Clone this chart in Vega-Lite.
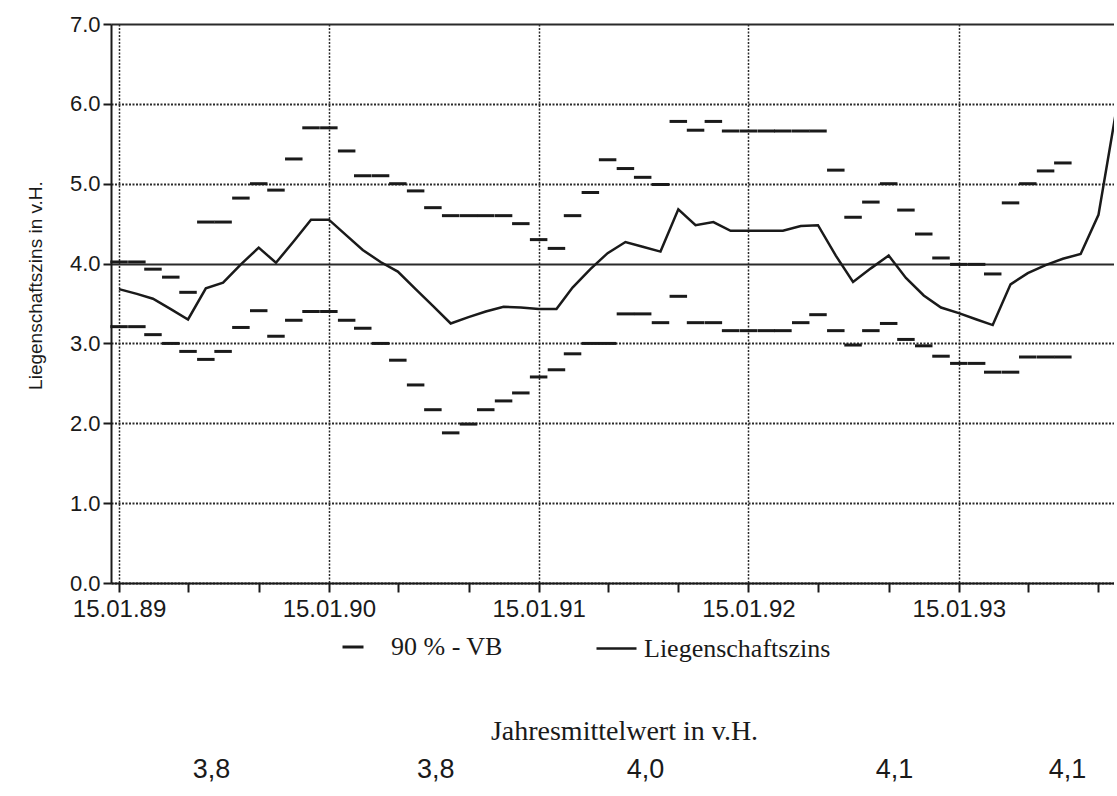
{
  "$schema": "https://vega.github.io/schema/vega-lite/v6.json",
  "background": "white",
  "padding": {"left": 26, "top": 13, "right": 0, "bottom": 0},
  "spacing": 56,
  "config": {
    "font": "Liberation Sans",
    "view": {"stroke": null},
    "locale": {"number": {"decimal": ",", "thousands": ".", "grouping": [3], "currency": ["", " DM"]}}
  },
  "datasets": {
    "monate": [
      {"datum": "1989-01-15", "zins": 3.68, "ob": 4.02, "un": 3.21},
      {"datum": "1989-02-15", "zins": 3.62, "ob": 4.02, "un": 3.21},
      {"datum": "1989-03-15", "zins": 3.56, "ob": 3.93, "un": 3.11},
      {"datum": "1989-04-15", "zins": 3.43, "ob": 3.83, "un": 3.00},
      {"datum": "1989-05-15", "zins": 3.30, "ob": 3.64, "un": 2.90},
      {"datum": "1989-06-15", "zins": 3.69, "ob": 4.52, "un": 2.80},
      {"datum": "1989-07-15", "zins": 3.76, "ob": 4.52, "un": 2.90},
      {"datum": "1989-08-15", "zins": 3.99, "ob": 4.82, "un": 3.20},
      {"datum": "1989-09-15", "zins": 4.20, "ob": 5.00, "un": 3.41},
      {"datum": "1989-10-15", "zins": 4.01, "ob": 4.92, "un": 3.09},
      {"datum": "1989-11-15", "zins": 4.28, "ob": 5.31, "un": 3.29},
      {"datum": "1989-12-15", "zins": 4.55, "ob": 5.70, "un": 3.40},
      {"datum": "1990-01-15", "zins": 4.55, "ob": 5.70, "un": 3.40},
      {"datum": "1990-02-15", "zins": 4.35, "ob": 5.41, "un": 3.29},
      {"datum": "1990-03-15", "zins": 4.17, "ob": 5.10, "un": 3.19},
      {"datum": "1990-04-15", "zins": 4.02, "ob": 5.10, "un": 3.00},
      {"datum": "1990-05-15", "zins": 3.90, "ob": 5.00, "un": 2.79},
      {"datum": "1990-06-15", "zins": 3.68, "ob": 4.91, "un": 2.48},
      {"datum": "1990-07-15", "zins": 3.47, "ob": 4.70, "un": 2.17},
      {"datum": "1990-08-15", "zins": 3.25, "ob": 4.60, "un": 1.88},
      {"datum": "1990-09-15", "zins": 3.33, "ob": 4.60, "un": 1.99},
      {"datum": "1990-10-15", "zins": 3.40, "ob": 4.60, "un": 2.17},
      {"datum": "1990-11-15", "zins": 3.46, "ob": 4.60, "un": 2.28},
      {"datum": "1990-12-15", "zins": 3.45, "ob": 4.50, "un": 2.38},
      {"datum": "1991-01-15", "zins": 3.43, "ob": 4.30, "un": 2.58},
      {"datum": "1991-02-15", "zins": 3.43, "ob": 4.19, "un": 2.67},
      {"datum": "1991-03-15", "zins": 3.70, "ob": 4.60, "un": 2.87},
      {"datum": "1991-04-15", "zins": 3.93, "ob": 4.89, "un": 3.00},
      {"datum": "1991-05-15", "zins": 4.13, "ob": 5.30, "un": 3.00},
      {"datum": "1991-06-15", "zins": 4.27, "ob": 5.19, "un": 3.37},
      {"datum": "1991-07-15", "zins": 4.21, "ob": 5.08, "un": 3.37},
      {"datum": "1991-08-15", "zins": 4.15, "ob": 4.99, "un": 3.26},
      {"datum": "1991-09-15", "zins": 4.68, "ob": 5.78, "un": 3.59},
      {"datum": "1991-10-15", "zins": 4.48, "ob": 5.67, "un": 3.26},
      {"datum": "1991-11-15", "zins": 4.52, "ob": 5.78, "un": 3.26},
      {"datum": "1991-12-15", "zins": 4.41, "ob": 5.66, "un": 3.16},
      {"datum": "1992-01-15", "zins": 4.41, "ob": 5.66, "un": 3.16},
      {"datum": "1992-02-15", "zins": 4.41, "ob": 5.66, "un": 3.16},
      {"datum": "1992-03-15", "zins": 4.41, "ob": 5.66, "un": 3.16},
      {"datum": "1992-04-15", "zins": 4.47, "ob": 5.66, "un": 3.26},
      {"datum": "1992-05-15", "zins": 4.48, "ob": 5.66, "un": 3.36},
      {"datum": "1992-06-15", "zins": 4.10, "ob": 5.17, "un": 3.16},
      {"datum": "1992-07-15", "zins": 3.77, "ob": 4.58, "un": 2.98},
      {"datum": "1992-08-15", "zins": 3.94, "ob": 4.77, "un": 3.16},
      {"datum": "1992-09-15", "zins": 4.10, "ob": 5.00, "un": 3.25},
      {"datum": "1992-10-15", "zins": 3.82, "ob": 4.67, "un": 3.05},
      {"datum": "1992-11-15", "zins": 3.60, "ob": 4.37, "un": 2.97},
      {"datum": "1992-12-15", "zins": 3.45, "ob": 4.07, "un": 2.84},
      {"datum": "1993-01-15", "zins": 3.38, "ob": 3.99, "un": 2.75},
      {"datum": "1993-02-15", "zins": 3.30, "ob": 3.99, "un": 2.75},
      {"datum": "1993-03-15", "zins": 3.23, "ob": 3.87, "un": 2.64},
      {"datum": "1993-04-15", "zins": 3.74, "ob": 4.76, "un": 2.64},
      {"datum": "1993-05-15", "zins": 3.88, "ob": 5.00, "un": 2.83},
      {"datum": "1993-06-15", "zins": 3.98, "ob": 5.16, "un": 2.83},
      {"datum": "1993-07-15", "zins": 4.06, "ob": 5.26, "un": 2.83},
      {"datum": "1993-08-15", "zins": 4.12, "ob": null, "un": null},
      {"datum": "1993-09-15", "zins": 4.61, "ob": null, "un": null},
      {"datum": "1993-10-15", "zins": 5.88, "ob": null, "un": null}
    ],
    "jahre": [
      {"datum": "1989-06-25", "mittel": 3.8},
      {"datum": "1990-07-20", "mittel": 3.8},
      {"datum": "1991-07-20", "mittel": 4.0},
      {"datum": "1992-09-25", "mittel": 4.1},
      {"datum": "1993-07-23", "mittel": 4.1}
    ]
  },
  "vconcat": [
    {
      "width": 1003,
      "height": 559,
      "layer": [
        {
          "data": {"name": "monate"},
          "transform": [{"fold": ["ob", "un"], "as": ["grenze", "vb"]}],
          "mark": {"type": "tick", "orient": "horizontal", "size": 17.5, "thickness": 3, "opacity": 1},
          "encoding": {
            "x": {
              "field": "datum", "type": "temporal",
              "scale": {"type": "utc", "domain": [{"year": 1989, "month": 1, "date": 1, "utc": true}, {"year": 1993, "month": 10, "date": 12, "utc": true}]},
              "axis": {
                "title": null,
                "values": [
                  {"year": 1989, "month": 1, "date": 15, "utc": true}, {"year": 1989, "month": 2, "date": 15, "utc": true}, {"year": 1989, "month": 3, "date": 15, "utc": true}, {"year": 1989, "month": 4, "date": 15, "utc": true}, {"year": 1989, "month": 5, "date": 15, "utc": true}, {"year": 1989, "month": 6, "date": 15, "utc": true}, {"year": 1989, "month": 7, "date": 15, "utc": true}, {"year": 1989, "month": 8, "date": 15, "utc": true}, {"year": 1989, "month": 9, "date": 15, "utc": true}, {"year": 1989, "month": 10, "date": 15, "utc": true}, {"year": 1989, "month": 11, "date": 15, "utc": true}, {"year": 1989, "month": 12, "date": 15, "utc": true},
                  {"year": 1990, "month": 1, "date": 15, "utc": true}, {"year": 1990, "month": 2, "date": 15, "utc": true}, {"year": 1990, "month": 3, "date": 15, "utc": true}, {"year": 1990, "month": 4, "date": 15, "utc": true}, {"year": 1990, "month": 5, "date": 15, "utc": true}, {"year": 1990, "month": 6, "date": 15, "utc": true}, {"year": 1990, "month": 7, "date": 15, "utc": true}, {"year": 1990, "month": 8, "date": 15, "utc": true}, {"year": 1990, "month": 9, "date": 15, "utc": true}, {"year": 1990, "month": 10, "date": 15, "utc": true}, {"year": 1990, "month": 11, "date": 15, "utc": true}, {"year": 1990, "month": 12, "date": 15, "utc": true},
                  {"year": 1991, "month": 1, "date": 15, "utc": true}, {"year": 1991, "month": 2, "date": 15, "utc": true}, {"year": 1991, "month": 3, "date": 15, "utc": true}, {"year": 1991, "month": 4, "date": 15, "utc": true}, {"year": 1991, "month": 5, "date": 15, "utc": true}, {"year": 1991, "month": 6, "date": 15, "utc": true}, {"year": 1991, "month": 7, "date": 15, "utc": true}, {"year": 1991, "month": 8, "date": 15, "utc": true}, {"year": 1991, "month": 9, "date": 15, "utc": true}, {"year": 1991, "month": 10, "date": 15, "utc": true}, {"year": 1991, "month": 11, "date": 15, "utc": true}, {"year": 1991, "month": 12, "date": 15, "utc": true},
                  {"year": 1992, "month": 1, "date": 15, "utc": true}, {"year": 1992, "month": 2, "date": 15, "utc": true}, {"year": 1992, "month": 3, "date": 15, "utc": true}, {"year": 1992, "month": 4, "date": 15, "utc": true}, {"year": 1992, "month": 5, "date": 15, "utc": true}, {"year": 1992, "month": 6, "date": 15, "utc": true}, {"year": 1992, "month": 7, "date": 15, "utc": true}, {"year": 1992, "month": 8, "date": 15, "utc": true}, {"year": 1992, "month": 9, "date": 15, "utc": true}, {"year": 1992, "month": 10, "date": 15, "utc": true}, {"year": 1992, "month": 11, "date": 15, "utc": true}, {"year": 1992, "month": 12, "date": 15, "utc": true},
                  {"year": 1993, "month": 1, "date": 15, "utc": true}, {"year": 1993, "month": 2, "date": 15, "utc": true}, {"year": 1993, "month": 3, "date": 15, "utc": true}, {"year": 1993, "month": 4, "date": 15, "utc": true}, {"year": 1993, "month": 5, "date": 15, "utc": true}, {"year": 1993, "month": 6, "date": 15, "utc": true}, {"year": 1993, "month": 7, "date": 15, "utc": true}, {"year": 1993, "month": 8, "date": 15, "utc": true}, {"year": 1993, "month": 9, "date": 15, "utc": true}, {"year": 1993, "month": 10, "date": 15, "utc": true}
                ],
                "labelExpr": "utcmonth(datum.value) == 0 ? utcFormat(datum.value, '%d.%m.%y') : ''",
                "labelOverlap": false,
                "labelBound": false,
                "labelFont": "Liberation Sans",
                "labelFontSize": 24,
                "labelColor": "#1a1a1a",
                "labelPadding": 5,
                "tickSize": 9,
                "tickWidth": 2,
                "tickColor": "#1a1a1a",
                "domainColor": "#1a1a1a",
                "domainWidth": 2,
                "grid": true,
                "gridColor": "#2a2a2a",
                "gridWidth": 1.5,
                "gridDash": [2, 1.5],
                "gridOpacity": {"condition": {"test": "utcmonth(datum.value) == 0", "value": 1}, "value": 0}
              }
            },
            "y": {
              "field": "vb", "type": "quantitative",
              "scale": {"domain": [0, 7], "nice": false, "zero": true},
              "axis": {
                "title": "Liegenschaftszins in v.H.",
                "titleFont": "Liberation Sans",
                "titleFontSize": 19,
                "titleFontWeight": "normal",
                "titleColor": "#1a1a1a",
                "titlePadding": 24,
                "titleY": 261,
                "values": [0, 1, 2, 3, 4, 5, 6, 7],
                "labelExpr": "datum.value + '.0'",
                "labelFont": "Liberation Sans",
                "labelFontSize": 22,
                "labelColor": "#1a1a1a",
                "labelPadding": 3,
                "tickSize": 8,
                "tickWidth": 2,
                "tickColor": "#1a1a1a",
                "domainColor": "#1a1a1a",
                "domainWidth": 2,
                "grid": true,
                "gridColor": "#2a2a2a",
                "gridWidth": 2,
                "gridDash": {"condition": {"test": "datum.value == 7 || datum.value == 4", "value": []}, "value": [2, 1.5]}
              }
            },
            "color": {
              "datum": "90 % - VB", "type": "nominal",
              "scale": {"range": ["#1a1a1a"]},
              "legend": {
                "orient": "none", "legendX": 229, "legendY": 610, "title": null, "padding": 0,
                "symbolType": "stroke", "symbolSize": 441, "symbolStrokeWidth": 3, "symbolStrokeColor": "#1a1a1a", "symbolOpacity": 1,
                "labelFont": "Liberation Serif", "labelFontSize": 26, "labelColor": "#1a1a1a", "labelOffset": 25, "labelLimit": 400
              }
            }
          }
        },
        {
          "data": {"name": "monate"},
          "mark": {"type": "line", "strokeWidth": 2.5, "clip": true},
          "encoding": {
            "x": {"field": "datum", "type": "temporal"},
            "y": {"field": "zins", "type": "quantitative"},
            "color": {
              "datum": "Liegenschaftszins", "type": "nominal",
              "scale": {"range": ["#1a1a1a"]},
              "legend": {
                "orient": "none", "legendX": 484, "legendY": 603, "title": null, "padding": 0,
                "symbolType": "stroke", "symbolSize": 1600, "symbolStrokeWidth": 2.5, "symbolOpacity": 1,
                "labelFont": "Liberation Serif", "labelFontSize": 26, "labelColor": "#1a1a1a", "labelOffset": 6, "labelLimit": 400
              }
            }
          }
        }
      ],
      "resolve": {"scale": {"color": "independent"}, "legend": {"color": "independent"}}
    },
    {
      "width": 1003,
      "height": 36,
      "view": {"stroke": null},
      "title": {"text": "Jahresmittelwert in v.H.", "font": "Liberation Serif", "fontSize": 28, "fontWeight": "normal", "color": "#1a1a1a", "anchor": "middle", "dx": 12, "offset": 6},
      "data": {"name": "jahre"},
      "mark": {"type": "text", "font": "Liberation Sans", "fontSize": 27, "color": "#1a1a1a"},
      "encoding": {
        "x": {
          "field": "datum", "type": "temporal",
          "scale": {"type": "utc", "domain": [{"year": 1989, "month": 1, "date": 1, "utc": true}, {"year": 1993, "month": 10, "date": 12, "utc": true}]},
          "axis": null
        },
        "text": {"field": "mittel", "type": "quantitative", "format": ".1f"}
      }
    }
  ]
}
